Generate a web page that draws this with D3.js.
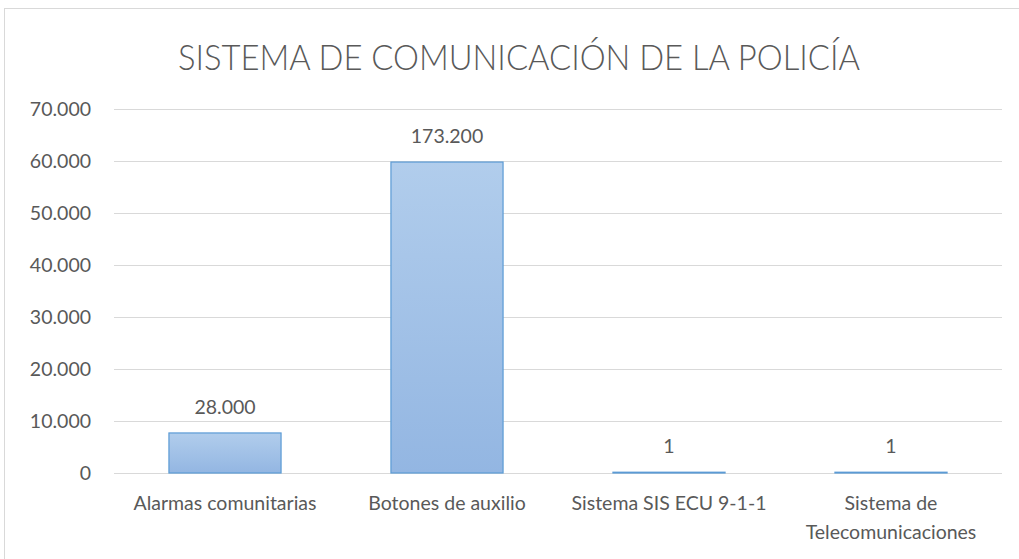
<!DOCTYPE html>
<html><head><meta charset="utf-8">
<script src="https://cdn.jsdelivr.net/npm/d3@7"></script>
<style>body{margin:0;background:#fff;}svg{display:block;font-family:Lato, "Open Sans", sans-serif;}</style>
</head><body>
<svg id="c" width="1019" height="559"></svg>
<script>
const categories = ["Alarmas comunitarias", "Botones de auxilio", "Sistema SIS ECU 9-1-1", "Sistema de Telecomunicaciones"];
const categoryLines = [["Alarmas comunitarias"], ["Botones de auxilio"], ["Sistema SIS ECU 9-1-1"], ["Sistema de", "Telecomunicaciones"]];
const values = [7700, 59800, 150, 150];
const valueLabels = ["28.000", "173.200", "1", "1"];
const yTicks = [0, 10000, 20000, 30000, 40000, 50000, 60000, 70000];
const yTickLabels = ["0", "10.000", "20.000", "30.000", "40.000", "50.000", "60.000", "70.000"];
const title = "SISTEMA DE COMUNICACIÓN DE LA POLICÍA";

const svg = d3.select("#c");
const W = 1019, H = 559;
const m = {left: 114, right: 1002, top: 109, bottom: 473};
const FS = 19.5;

// chart border
svg.append("rect").attr("x", 4.5).attr("y", 8.5).attr("width", W + 10).attr("height", H + 10)
  .attr("fill", "#fff").attr("stroke", "#d9d9d9").attr("stroke-width", 1);

const defs = svg.append("defs");
const g = defs.append("linearGradient").attr("id", "bg").attr("x1", 0).attr("y1", 0).attr("x2", 0).attr("y2", 1);
g.append("stop").attr("offset", "0%").attr("stop-color", "#b1cdec");
g.append("stop").attr("offset", "100%").attr("stop-color", "#93b6e2");

const x = d3.scaleBand().domain(categories).range([m.left, m.right]).paddingInner(0.495).paddingOuter(0.2475);
const y = d3.scaleLinear().domain([0, 70000]).range([m.bottom, m.top]);

// gridlines
svg.append("g").selectAll("line").data(yTicks).join("line")
  .attr("x1", m.left).attr("x2", m.right)
  .attr("y1", d => Math.round(y(d)) + 0.5).attr("y2", d => Math.round(y(d)) + 0.5)
  .attr("stroke", "#d9d9d9").attr("stroke-width", 1);

// y axis labels
const yAxis = d3.axisLeft(y).tickValues(yTicks).tickSize(0).tickPadding(23)
  .tickFormat((d, i) => yTickLabels[i]);
const ya = svg.append("g").attr("transform", `translate(${m.left},0)`).call(yAxis);
ya.select(".domain").remove();
ya.selectAll("text").attr("fill", "#595959").attr("font-size", FS).attr("font-family", "Lato, sans-serif");

// bars
svg.append("g").selectAll("rect").data(values).join("rect")
  .attr("x", (d, i) => x(categories[i]))
  .attr("width", x.bandwidth())
  .attr("y", d => y(d))
  .attr("height", d => y(0) - y(d))
  .attr("fill", "url(#bg)").attr("stroke", "#5b9bd5").attr("stroke-width", 1.2);

// value labels
svg.append("g").selectAll("text").data(values).join("text")
  .attr("x", (d, i) => x(categories[i]) + x.bandwidth() / 2)
  .attr("y", d => y(d) - 19)
  .attr("text-anchor", "middle").attr("fill", "#595959").attr("font-size", FS)
  .text((d, i) => valueLabels[i]);

// category labels
const xa = svg.append("g");
categoryLines.forEach((lines, i) => {
  const cx = x(categories[i]) + x.bandwidth() / 2;
  const t = xa.append("text").attr("x", cx).attr("y", 510)
    .attr("text-anchor", "middle").attr("fill", "#595959").attr("font-size", FS);
  lines.forEach((l, j) => t.append("tspan").attr("x", cx).attr("dy", j === 0 ? 0 : 29).text(l));
});

// title
svg.append("text").attr("x", 519).attr("y", 70).attr("text-anchor", "middle")
  .attr("fill", "#595959").attr("font-size", 36).attr("font-weight", 300)
  .attr("font-family", "Lato, sans-serif")
  .attr("textLength", 682).attr("lengthAdjust", "spacingAndGlyphs")
  .text(title);
</script>
</body></html>
